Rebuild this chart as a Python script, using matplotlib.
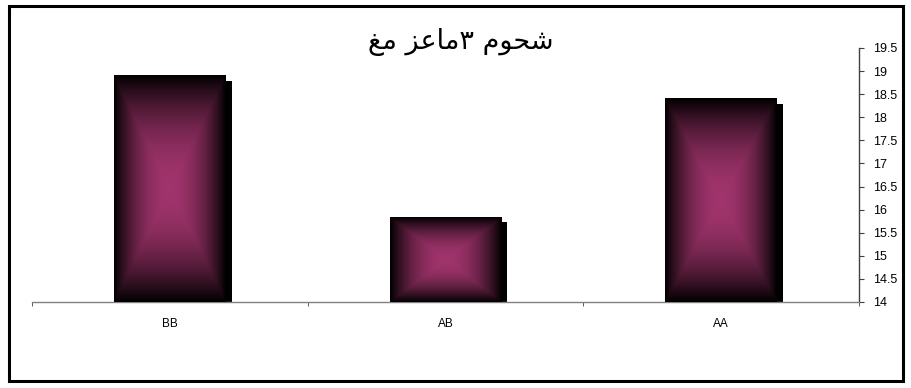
import numpy as np
import matplotlib
matplotlib.use("Agg")
import matplotlib.pyplot as plt
import matplotlib.patches as patches
import matplotlib.transforms as mtransforms

# chart data
categories = ["BB", "AB", "AA"]
values = [18.9, 15.83, 18.4]
title_text = "شحوم ٣ماعز مغ"
y_min = 14
y_max = 19.5
y_step = 0.5

# arabic presentation forms: isolated, final, initial, medial
forms = {
	"ش": ("\uFEB5", "\uFEB6", "\uFEB7", "\uFEB8"),
	"ح": ("\uFEA1", "\uFEA2", "\uFEA3", "\uFEA4"),
	"و": ("\uFEED", "\uFEEE", None, None),
	"م": ("\uFEE1", "\uFEE2", "\uFEE3", "\uFEE4"),
	"ا": ("\uFE8D", "\uFE8E", None, None),
	"ع": ("\uFEC9", "\uFECA", "\uFECB", "\uFECC"),
	"ز": ("\uFEAF", "\uFEB0", None, None),
	"غ": ("\uFECD", "\uFECE", "\uFECF", "\uFED0"),
}

def joins_left(c):
	return c in forms and forms[c][2] is not None

def shape_rtl(s):
	out = []
	for i, c in enumerate(s):
		if c not in forms:
			out.append(c)
			continue
		prev = s[i-1] if i > 0 else ""
		nxt = s[i+1] if i < len(s)-1 else ""
		p = joins_left(prev)
		n = joins_left(c) and nxt in forms
		if p and n:
			out.append(forms[c][3])
		elif p:
			out.append(forms[c][1])
		elif n:
			out.append(forms[c][2])
		else:
			out.append(forms[c][0])
	# everything here is right to left, so just reverse for display
	return "".join(out[::-1])

W, H, DPI = 912, 388, 100
fig = plt.figure(figsize=(W/DPI, H/DPI), dpi=DPI)
fig.patch.set_facecolor("white")

left, right, top, bottom = 32, 859, 48, 302
ax = fig.add_axes([left/W, 1-bottom/H, (right-left)/W, (bottom-top)/H])
ax.set_facecolor("none")
ax.set_xlim(-0.5, len(categories)-0.5)
ax.set_ylim(y_min, y_max)

bar_w = 0.405
center_col = np.array([160, 52, 108]) / 255.0

# pixels per data unit
px_x = (right-left) / len(categories)
px_y = (bottom-top) / (y_max-y_min)

shadow_tr = mtransforms.offset_copy(ax.transData, fig=fig, x=6, y=0, units="dots")

for i, v in enumerate(values):
	x0 = i - bar_w/2
	sh = patches.Rectangle((x0, y_min - 1/px_y), bar_w, v-y_min-4/px_y, facecolor="black",
		edgecolor="none", transform=shadow_tr, zorder=2, clip_on=False)
	ax.add_patch(sh)
	nx = int(round(bar_w*px_x))
	ny = int(round((v-y_min)*px_y))
	u = (np.arange(nx) + 0.5) / nx * 2 - 1
	w = (np.arange(ny) + 0.5) / ny * 2 - 1
	gu, gw = np.meshgrid(u, w)
	r = np.maximum(np.abs(gu), np.abs(gw))
	t = 1 - r**2
	img = t[:, :, None] * center_col[None, None, :]
	ax.imshow(img, extent=(x0, x0+bar_w, y_min, v), aspect="auto",
		interpolation="bilinear", zorder=3, origin="lower")

ax.set_xlim(-0.5, len(categories)-0.5)
ax.set_ylim(y_min, y_max)

for s in ["left", "top"]:
	ax.spines[s].set_visible(False)
ax.spines["bottom"].set_color("#808080")
ax.spines["bottom"].set_linewidth(1.0)
ax.spines["right"].set_color("#404040")
ax.spines["right"].set_linewidth(1.0)

ax.set_xticks(range(len(categories)))
ax.set_xticklabels(categories, fontsize=8.5, family="Liberation Sans")
ax.set_xticks(np.arange(-0.5, len(categories)), minor=True)
ax.tick_params(axis="x", which="major", length=0, pad=11.5)
ax.tick_params(axis="x", which="minor", length=3, color="#404040", direction="out")

yt = np.arange(y_min, y_max+0.001, y_step)
ax.yaxis.tick_right()
ax.set_yticks(yt)
ax.set_yticklabels(["%g" % y for y in yt], fontsize=9, family="Liberation Sans")
ax.tick_params(axis="y", length=3.5, color="#404040", direction="out", pad=6.5)

fig.text(461/W, 1-42/H, shape_rtl(title_text), ha="center", va="center",
	fontsize=19.5, family="DejaVu Sans")

# outer chart border
border = patches.Rectangle((9/W, 1-381/H), (903-9)/W, (381-6)/H, transform=fig.transFigure,
	fill=False, edgecolor="black", linewidth=2.2)
fig.patches.append(border)

fig.savefig("out.png", dpi=DPI)
